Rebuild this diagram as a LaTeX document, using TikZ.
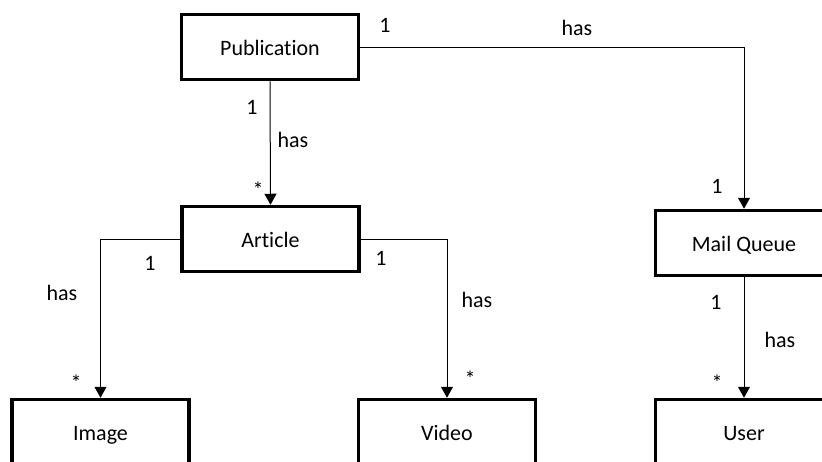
\documentclass[tikz,border=0pt]{standalone}
\usepackage{fontspec}
\setmainfont[Ligatures=NoCommon]{Carlito}
\usetikzlibrary{arrows.meta}

\begin{document}
\begin{tikzpicture}[x=1pt,y=-1pt,line width=1pt,
  entity/.style={draw,line width=3.5pt,minimum width=177pt,minimum height=65pt,inner sep=0pt,text height=17pt,text depth=1pt,font=\fontsize{22}{26}\selectfont},
  mult/.style={anchor=center,inner sep=1pt,font=\fontsize{22}{26}\selectfont},
  assoc/.style={-{Triangle[length=11pt,width=12pt]}}]
\path[use as bounding box] (0,0) rectangle (822,461);
\node[entity] (pub) at (270,47) {Publication};
\node[entity] (art) at (270.5,239) {Article};
\node[entity] (img) at (100.5,432) {Image};
\node[entity] (vid) at (447,432) {Video};
\node[entity] (mq) at (744,243) {Mail Queue};
\node[entity] (usr) at (744,432) {User};
% connectors
\draw[assoc] (pub.south) -- (art.north);
\draw[assoc] (pub.east) -| (mq.north);
\draw[assoc] (art.west) -| (img.north);
\draw[assoc] (art.east) -| (vid.north);
\draw[assoc] (mq.south) -- (usr.north);
% multiplicities and roles
\node[mult] (m1) at (385,25) {1};
\node[mult] (h1) at (577,28) {has};
\node[mult] (m2) at (717,186) {1};
\node[mult] (m3) at (252,107) {1};
\node[mult] (h2) at (293,140) {has};
\node[mult] (s1) at (258,190) {*};
\node[mult] (m4) at (150,263) {1};
\node[mult] (h3) at (62,293) {has};
\node[mult] (s2) at (76,383) {*};
\node[mult] (m5) at (381,258) {1};
\node[mult] (h4) at (477,300) {has};
\node[mult] (s3) at (470,379) {*};
\node[mult] (m6) at (716,302) {1};
\node[mult] (h5) at (780,340) {has};
\node[mult] (s4) at (717,383) {*};
\end{tikzpicture}
\end{document}
